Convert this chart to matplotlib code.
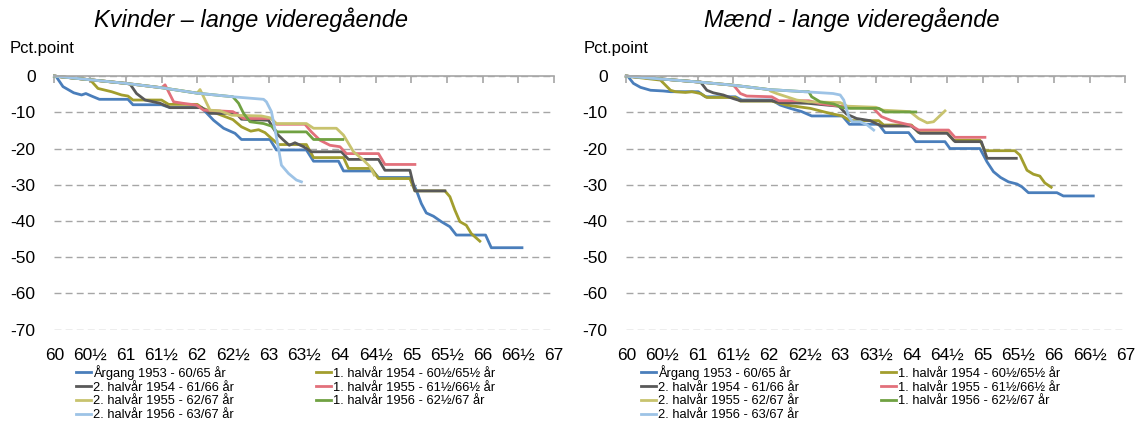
import matplotlib
matplotlib.use("Agg")
import matplotlib.pyplot as plt
from matplotlib.lines import Line2D

plt.rcParams['font.family'] = ['Liberation Sans', 'DejaVu Sans']

"""
DATA (age in years, change in pct.point)
"""
labels = ['Årgang 1953 - 60/65 år',
          '1. halvår 1954 - 60½/65½ år',
          '2. halvår 1954 - 61/66 år',
          '1. halvår 1955 - 61½/66½ år',
          '2. halvår 1955 - 62/67 år',
          '1. halvår 1956 - 62½/67 år',
          '2. halvår 1956 - 63/67 år']
colors = ['#4A7EBB', '#A29E2E', '#595959', '#E2707B', '#C8C36E', '#70A142', '#9DC3E6']

tick_ages = [60, 60.5, 61, 61.5, 62, 62.5, 63, 63.5, 64, 64.5, 65, 65.5, 66, 66.5, 67]
tick_labels = ['60', '60½', '61', '61½', '62', '62½', '63', '63½',
               '64', '64½', '65', '65½', '66', '66½', '67']
y_ticks = [0, -10, -20, -30, -40, -50, -60, -70]

# Kvinder - common path before each cohort leaves
kv_diag_x = [60, 61, 61.5, 62, 62.5, 62.93]
kv_diag_y = [0, -2.0, -3.2, -4.7, -5.7, -6.4]

kv_1953_x = [60.02, 60.12, 60.27, 60.38, 60.44, 60.52, 60.63, 61.03, 61.1, 61.5, 61.62, 62.06,
             62.23, 62.37, 62.53, 62.62, 63.02, 63.11, 63.53, 63.63, 63.98, 64.05, 64.46, 64.54,
             64.98, 65.07, 65.14, 65.21, 65.31, 65.42, 65.54, 65.63, 66.04, 66.12, 66.55]
kv_1953_y = [0, -2.9, -4.6, -5.2, -4.8, -5.5, -6.4, -6.4, -7.9, -7.9, -8.7, -8.7,
             -12.2, -14.4, -15.8, -17.5, -17.5, -20.4, -20.4, -23.5, -23.5, -26.2, -26.2, -28.0,
             -28.0, -31.5, -35.2, -37.8, -38.7, -40.2, -41.6, -43.9, -43.9, -47.4, -47.4]

kv_h1_1954_x = [60.5, 60.61, 60.8, 60.94, 61.03, 61.1, 61.5, 61.6, 62.0, 62.08, 62.3, 62.5, 62.62,
                62.75, 62.86, 62.95, 63.04, 63.14, 63.53, 63.63, 64.05, 64.12, 64.44, 64.54,
                64.98, 65.05, 65.47, 65.54, 65.61, 65.68, 65.77, 65.84, 65.96]
kv_h1_1954_y = [-1.0, -3.4, -4.3, -5.2, -5.5, -6.6, -6.6, -7.8, -7.8, -8.9, -10.5, -12.0, -14.0,
                -15.2, -14.8, -15.6, -17.2, -18.9, -18.9, -22.5, -22.5, -25.5, -25.5, -28.3,
                -28.3, -31.7, -31.7, -33.3, -37.0, -40.2, -41.2, -43.5, -45.6]

kv_h2_1954_x = [61.06, 61.15, 61.27, 61.48, 61.62, 62.06, 62.18, 62.55, 62.62, 63.0, 63.11,
                63.21, 63.29, 63.37, 63.49, 63.6, 64.02, 64.12, 64.54, 64.63, 64.98, 65.05, 65.47]
kv_h2_1954_y = [-2.2, -4.8, -6.6, -7.5, -8.7, -8.7, -10.3, -10.3, -11.9, -12.2, -15.8,
                -17.7, -19.1, -18.4, -19.5, -20.9, -20.9, -23.0, -23.0, -26.0, -26.0, -31.7, -31.7]

kv_h1_1955_x = [61.55, 61.67, 61.8, 61.99, 62.09, 62.5, 62.65, 63.04, 63.11, 63.51, 63.6,
                63.72, 63.86, 64.0, 64.09, 64.54, 64.63, 65.05]
kv_h1_1955_y = [-2.4, -7.1, -7.5, -8.0, -9.4, -9.8, -11.7, -11.7, -13.3, -13.3, -15.4,
                -17.7, -19.1, -19.5, -21.4, -21.4, -24.4, -24.4]

kv_h2_1955_x = [62.04, 62.18, 62.32, 62.48, 62.9, 63.02, 63.11, 63.53, 63.63, 63.95, 64.05,
                64.19, 64.33, 64.42, 64.48]
kv_h2_1955_y = [-3.7, -9.4, -9.6, -10.8, -11.0, -11.5, -13.1, -13.1, -14.4, -14.4, -16.3,
                -20.9, -23.2, -25.0, -27.3]

kv_h1_1956_x = [62.5, 62.58, 62.65, 62.74, 62.93, 63.04, 63.12, 63.53, 63.63, 64.04]
kv_h1_1956_y = [-5.7, -7.5, -10.3, -12.6, -13.1, -13.8, -15.4, -15.4, -17.5, -17.5]

kv_h2_1956_x = [62.97, 63.04, 63.11, 63.18, 63.28, 63.39, 63.46]
kv_h2_1956_y = [-7.1, -9.8, -16.8, -24.6, -26.9, -28.7, -29.2]

# Maend - common path before each cohort leaves
m_diag_x = [60, 61, 61.5, 62, 62.5, 62.9, 63.0]
m_diag_y = [0, -1.6, -2.5, -3.7, -4.3, -4.8, -5.2]

m_1953_x = [60.02, 60.1, 60.2, 60.34, 60.52, 60.62, 61.01, 61.11, 61.53, 61.62, 62.04, 62.16,
            62.3, 62.46, 62.6, 63.03, 63.13, 63.54, 63.63, 63.96, 64.06, 64.47, 64.54, 64.96,
            65.06, 65.15, 65.25, 65.36, 65.48, 65.55, 65.64, 66.04, 66.13, 66.55]
m_1953_y = [0, -2.0, -3.1, -3.9, -4.1, -4.3, -4.3, -5.7, -5.7, -6.6, -6.6, -8.0,
            -8.9, -9.8, -11.0, -11.0, -13.3, -13.3, -15.6, -15.6, -18.1, -18.1, -20.0, -20.0,
            -23.7, -26.4, -28.0, -29.2, -29.8, -30.6, -32.2, -32.2, -33.1, -33.1]

m_h1_1954_x = [60.48, 60.62, 60.69, 60.83, 60.92, 61.04, 61.13, 61.53, 61.6, 62.04, 62.25,
               62.58, 62.72, 62.86, 63.03, 63.14, 63.54, 63.61, 64.0, 64.1, 64.5, 64.59, 64.96,
               65.03, 65.45, 65.52, 65.62, 65.71, 65.8, 65.87, 65.96]
m_h1_1954_y = [-1.1, -3.9, -4.3, -4.5, -4.3, -4.8, -5.9, -5.9, -6.9, -6.9, -8.0,
               -8.9, -9.6, -10.3, -11.0, -12.3, -12.3, -13.5, -13.5, -15.6, -15.6, -17.7, -17.7,
               -20.6, -20.6, -21.8, -26.0, -27.1, -27.6, -29.5, -30.7]

m_h2_1954_x = [61.04, 61.13, 61.22, 61.36, 61.5, 61.6, 62.04, 62.15, 62.54, 62.98, 63.09,
               63.23, 63.42, 63.58, 64.0, 64.12, 64.5, 64.61, 64.98, 65.06, 65.47]
m_h2_1954_y = [-1.6, -3.9, -4.6, -5.2, -6.2, -6.8, -6.8, -7.3, -7.5, -8.3, -10.5,
               -11.7, -12.3, -13.8, -13.8, -15.8, -15.8, -18.1, -18.1, -22.7, -22.7]

m_h1_1955_x = [61.53, 61.6, 61.69, 62.04, 62.14, 62.56, 62.72, 63.0, 63.47, 63.58, 63.72,
               63.89, 63.98, 64.1, 64.52, 64.61, 65.03]
m_h1_1955_y = [-3.1, -4.8, -5.5, -5.7, -6.8, -6.8, -7.6, -8.3, -9.0, -11.2, -12.3,
               -13.1, -13.5, -14.9, -14.9, -16.9, -16.9]

m_h2_1955_x = [62.02, 62.11, 62.25, 62.39, 62.56, 63.0, 63.1, 63.5, 63.6, 63.98, 64.1,
               64.22, 64.31, 64.47]
m_h2_1955_y = [-4.1, -4.8, -5.7, -6.6, -7.1, -7.3, -8.3, -8.6, -9.4, -9.8, -11.7,
               -12.9, -12.6, -9.6]

m_h1_1956_x = [62.56, 62.6, 62.72, 62.91, 63.03, 63.14, 63.54, 63.63, 64.06]
m_h1_1956_y = [-4.3, -5.7, -7.1, -7.7, -8.7, -8.9, -8.9, -9.9, -9.9]

m_h2_1956_x = [63.05, 63.12, 63.17, 63.28, 63.38, 63.47]
m_h2_1956_y = [-6.6, -11.2, -12.6, -12.6, -13.5, -14.9]

kv_series = [(kv_1953_x, kv_1953_y), (kv_h1_1954_x, kv_h1_1954_y), (kv_h2_1954_x, kv_h2_1954_y),
             (kv_h1_1955_x, kv_h1_1955_y), (kv_h2_1955_x, kv_h2_1955_y),
             (kv_h1_1956_x, kv_h1_1956_y), (kv_h2_1956_x, kv_h2_1956_y)]
m_series = [(m_1953_x, m_1953_y), (m_h1_1954_x, m_h1_1954_y), (m_h2_1954_x, m_h2_1954_y),
            (m_h1_1955_x, m_h1_1955_y), (m_h2_1955_x, m_h2_1955_y),
            (m_h1_1956_x, m_h1_1956_y), (m_h2_1956_x, m_h2_1956_y)]


def with_prefix(diag_x, diag_y, xs, ys):
    # Cohort follows the shared path until it leaves it
    px = [a for a in diag_x if a < xs[0]]
    py = [b for a, b in zip(diag_x, diag_y) if a < xs[0]]
    return px + list(xs), py + list(ys)


def draw_panel(ax, series, diag_x, diag_y):
    for (xs, ys), col in zip(series, colors):
        x, y = with_prefix(diag_x, diag_y, xs, ys)
        ax.plot(x, y, color=col, lw=2.0, solid_joinstyle='round', clip_on=False)

    ax.set_xlim(60, 67)
    ax.set_ylim(-70, 0)
    ax.set_xticks(tick_ages)
    ax.set_xticklabels(tick_labels)
    ax.set_yticks(y_ticks)
    ax.set_yticklabels([str(v) for v in y_ticks])

    for side in ['left', 'right', 'bottom']:
        ax.spines[side].set_visible(False)
    ax.spines['top'].set_color('#A6A6A6')
    ax.spines['top'].set_linewidth(1.2)

    ax.tick_params(axis='x', top=True, bottom=False, labeltop=False, labelbottom=True,
                   direction='in', length=5, width=1.2, color='#A6A6A6', pad=13, labelsize=12.5)
    ax.tick_params(axis='y', left=False, right=False, pad=10, labelsize=12.5)
    ax.grid(axis='y', color='#A6A6A6', linestyle=(0, (5, 3)), linewidth=1.0)
    ax.grid(axis='x', visible=False)
    ax.set_axisbelow(True)

    handles = [Line2D([], [], color=c, lw=2.0) for c in colors]
    order = [0, 2, 4, 6, 1, 3, 5]
    return [handles[i] for i in order], [labels[i] for i in order]


fig = plt.figure(figsize=(11.46, 4.23), dpi=100)
ax1 = fig.add_axes([0.0475, 0.221, 0.436, 0.599])
ax2 = fig.add_axes([0.5465, 0.221, 0.4355, 0.599])

for ax, series, dx, dy, title, tx, lx, gx in [
        (ax1, kv_series, kv_diag_x, kv_diag_y, 'Kvinder – lange videregående', 0.219, 0.0087, 0.0663),
        (ax2, m_series, m_diag_x, m_diag_y, 'Mænd - lange videregående', 0.743, 0.509, 0.5593)]:
    h, l = draw_panel(ax, series, dx, dy)
    fig.text(tx, 0.953, title, fontsize=17, style='italic', ha='center', va='center')
    fig.text(lx, 0.886, 'Pct.point', fontsize=12, ha='left', va='center')
    fig.legend(h, l, ncol=2, loc='upper left',
               bbox_to_anchor=(gx, 0.137), frameon=False, fontsize=9.3,
               handlelength=1.2, handletextpad=0.15, labelspacing=0.13,
               columnspacing=6.3, borderpad=0, borderaxespad=0)

fig.savefig('out.png', dpi=100)
